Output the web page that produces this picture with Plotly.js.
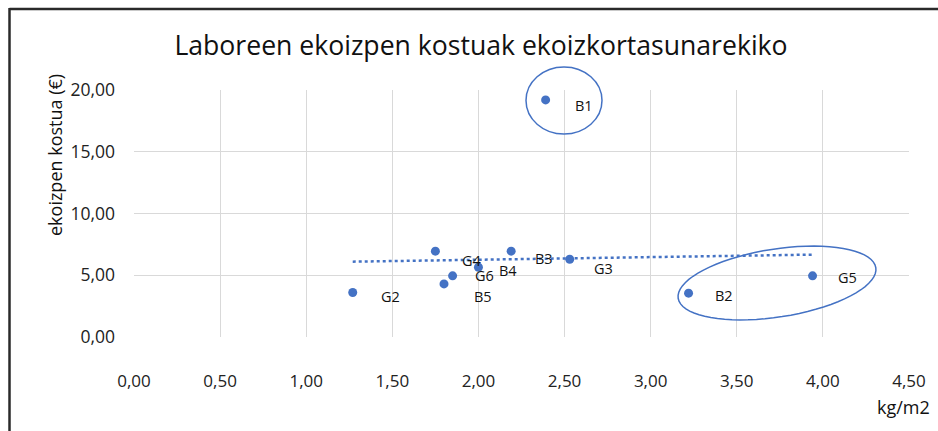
<!DOCTYPE html>
<html>
<head>
<meta charset="utf-8">
<script src="https://cdn.plot.ly/plotly-3.0.1.min.js"></script>
<style>html,body{margin:0;padding:0;background:#fff;}#chart{width:938px;height:431px;}</style>
</head>
<body>
<div id="chart"></div>
<script>
// ---- data ----
const labels = ["B1", "G4", "B3", "G3", "B4", "G6", "B5", "G2", "B2", "G5"];
const yieldKg = [2.39, 1.75, 2.19, 2.53, 2.00, 1.85, 1.80, 1.27, 3.22, 3.94];
const costEur = [19.2, 6.95, 6.95, 6.30, 5.65, 4.95, 4.30, 3.60, 3.55, 4.95];
const trendX = [1.27, 3.94];
const trendY = [6.10, 6.67];
const xTickVals = [0, 0.5, 1, 1.5, 2, 2.5, 3, 3.5, 4, 4.5];
const xTickText = ["0,00", "0,50", "1,00", "1,50", "2,00", "2,50", "3,00", "3,50", "4,00", "4,50"];
const yTickVals = [0, 5, 10, 15, 20];
const yTickText = ["0,00", "5,00", "10,00", "15,00", "20,00"];

// ---- label offsets (px) ----
const labelDx = [27, 25, 22, 22, 19, 20, 28, 26, 24, 23];
const labelDy = [-6, -9, -7, -9, -3, 0, -13, -4, -2, -2];

const W = 938, H = 431;
const M = {l: 134, r: 29, t: 90, b: 94};
const PW = W - M.l - M.r, PH = H - M.t - M.b;
const px2x = p => (p - M.l) / PW;
const px2y = p => (H - M.b - p) / PH;

const FONT = "'Open Sans', sans-serif";
const BLUE = "#4472C4";

// rotated ellipse around B2/G5 (pixel geometry)
function ellipsePath(cx, cy, a, b, deg) {
  const th = deg * Math.PI / 180;
  let d = "";
  const n = 72;
  for (let i = 0; i <= n; i++) {
    const t = 2 * Math.PI * i / n;
    const x = cx + a * Math.cos(t) * Math.cos(th) - b * Math.sin(t) * Math.sin(th);
    const y = cy - (a * Math.cos(t) * Math.sin(th) + b * Math.sin(t) * Math.cos(th));
    d += (i === 0 ? "M" : "L") + px2x(x).toFixed(5) + "," + px2y(y).toFixed(5);
  }
  return d + "Z";
}

const traces = [
  {
    x: trendX, y: trendY, mode: "lines", type: "scatter",
    line: {color: BLUE, width: 2.5, dash: "dot"}, hoverinfo: "skip"
  },
  {
    x: yieldKg, y: costEur, mode: "markers", type: "scatter",
    marker: {color: BLUE, size: 9}, text: labels
  }
];

const annotations = labels.map((t, i) => ({
  x: yieldKg[i], y: costEur[i], xref: "x", yref: "y",
  text: t, showarrow: false, xanchor: "left", yanchor: "middle",
  xshift: labelDx[i], yshift: labelDy[i],
  font: {family: FONT, size: 14.5, color: "#111"}
}));
annotations.push({
  xref: "paper", yref: "paper", x: px2x(55), y: px2y(155),
  text: "ekoizpen kostua (€)", textangle: -90, showarrow: false,
  xanchor: "center", yanchor: "middle",
  font: {family: FONT, size: 18, color: "#111"}
});
annotations.push({
  xref: "paper", yref: "paper", x: px2x(932), y: px2y(407),
  text: "kg/m2", showarrow: false, xanchor: "right", yanchor: "middle",
  font: {family: FONT, size: 18, color: "#111"}
});

const shapes = [
  {type: "circle", xref: "paper", yref: "paper",
   x0: px2x(526), x1: px2x(602), y0: px2y(134), y1: px2y(67),
   line: {color: BLUE, width: 1.5}},
  {type: "path", xref: "paper", yref: "paper",
   path: ellipsePath(777, 283, 100, 34, 8.8),
   line: {color: BLUE, width: 1.5}},
  {type: "line", xref: "paper", yref: "paper",
   x0: px2x(9.5), x1: px2x(940), y0: px2y(9), y1: px2y(9),
   line: {color: "#2a2a2a", width: 2.5}},
  {type: "line", xref: "paper", yref: "paper",
   x0: px2x(9.5), x1: px2x(9.5), y0: px2y(8), y1: px2y(435),
   line: {color: "#2a2a2a", width: 2.5}}
];

const layout = {
  width: W, height: H,
  margin: M,
  paper_bgcolor: "#fff", plot_bgcolor: "#fff",
  showlegend: false,
  title: {text: "Laboreen ekoizpen kostuak ekoizkortasunarekiko",
          font: {family: FONT, size: 26.6, color: "#111"},
          x: 481 / W, xref: "container", xanchor: "center", y: 1 - 46 / H, yanchor: "middle"},
  xaxis: {
    range: [0, 4.5], tickvals: xTickVals, ticktext: xTickText,
    showgrid: true, gridcolor: "#d9d9d9", gridwidth: 1,
    zeroline: false, showline: false, ticks: "",
    ticklabelstandoff: 32,
    tickfont: {family: FONT, size: 17, color: "#222"}
  },
  yaxis: {
    range: [0, 20], tickvals: yTickVals, ticktext: yTickText,
    showgrid: true, gridcolor: "#d9d9d9", gridwidth: 1,
    zeroline: false, showline: false, ticks: "",
    ticklabelstandoff: 18,
    tickfont: {family: FONT, size: 17.5, color: "#222"}
  },
  annotations: annotations,
  shapes: shapes
};

Plotly.newPlot("chart", traces, layout, {displayModeBar: false, staticPlot: true});
</script>
</body>
</html>
